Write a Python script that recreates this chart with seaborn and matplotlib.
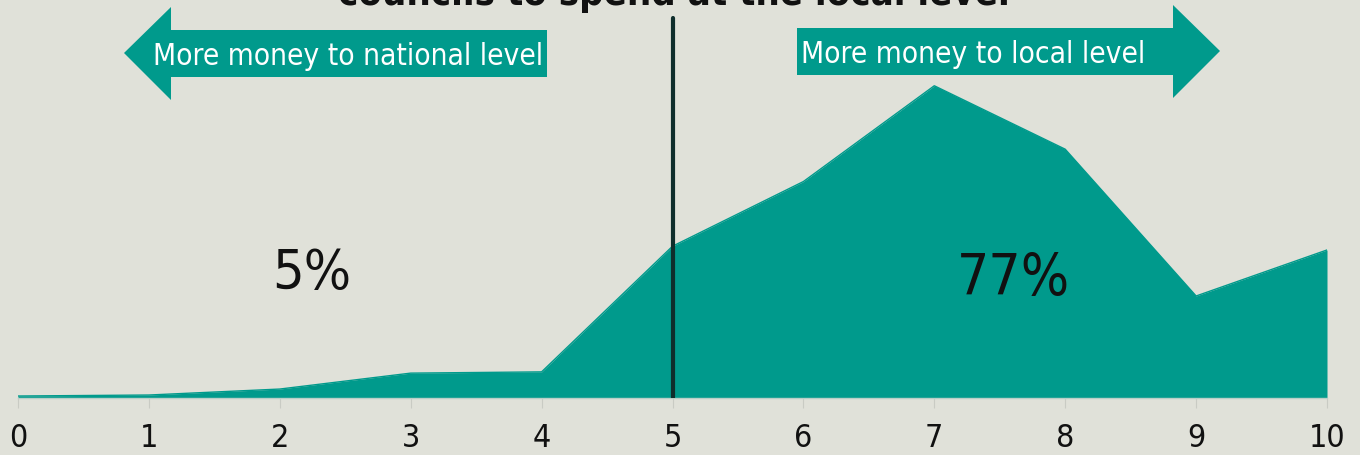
import matplotlib
matplotlib.use("Agg")
import matplotlib.pyplot as plt
import seaborn as sns
import pandas as pd
from matplotlib import font_manager
from matplotlib.patches import Polygon

# ---- data ----
scale_points = [0, 1, 2, 3, 4, 5, 6, 7, 8, 9, 10]
share = [0.16, 0.24, 0.72, 2.0, 2.1, 12.2, 17.4, 25.1, 20.0, 8.2, 11.9]
tick_labels = ["0", "1", "2", "3", "4", "5", "6", "7", "8", "9", "10"]
title_text = "councils to spend at the local level"
left_arrow_text = "More money to national level"
right_arrow_text = "More money to local level"
left_pct = "5%"
right_pct = "77%"

TEAL = "#009a8c"
BG = "#e0e1d9"
DARK = "#0f2e2c"

sns.set_theme(style="white")
condensed = any(f.name == "DejaVu Sans" and f.stretch == "condensed"
                for f in font_manager.fontManager.ttflist)
plt.rcParams["font.family"] = ["DejaVu Sans"]
STRETCH = "condensed" if condensed else "normal"

W, H = 1360, 456
fig = plt.figure(figsize=(W / 100, H / 100), dpi=100, facecolor=BG)
ax = fig.add_axes([18 / W, 57 / H, (1327 - 18) / W, 399 / H])
ax.set_facecolor(BG)

df = pd.DataFrame({"x": scale_points, "y": share})
ax.fill_between(df["x"], df["y"], 0, color=TEAL, linewidth=0, zorder=2)
sns.lineplot(data=df, x="x", y="y", color=TEAL, linewidth=1, ax=ax, zorder=3)

ax.set_xlim(0, 10)
ax.set_ylim(0, 399 / 1244 * 100)
ax.set_xticks(scale_points)
ax.set_xticklabels(tick_labels, fontsize=23, color="#111111", fontstretch=STRETCH)
ax.set_yticks([])
ax.set_xlabel("")
ax.set_ylabel("")
for s in ["top", "left", "right"]:
    ax.spines[s].set_visible(False)
ax.spines["bottom"].set_color("#b9cfc8")
ax.spines["bottom"].set_linewidth(1)
ax.tick_params(axis="x", bottom=True, length=7, width=0.8, color="#c9cbc4", pad=10)

ax.axvline(5, ymin=0, ymax=(399 - 19) / 399, color=DARK, linewidth=3, zorder=4)


def px(x, y):
    return (x / W, 1 - y / H)


left_poly = [(547, 31), (171, 31), (171, 8), (124, 54), (171, 101), (171, 78), (547, 78)]
right_poly = [(797, 29), (1173, 29), (1173, 6), (1220, 52), (1173, 99), (1173, 76), (797, 76)]
for poly in (left_poly, right_poly):
    fig.patches.append(Polygon([px(*p) for p in poly], closed=True, transform=fig.transFigure,
                               facecolor=TEAL, edgecolor="none"))

renderer = fig.canvas.get_renderer()


def fitted_text(x, y, s, target_w, size0, **kw):
    t = fig.text(*px(x, y), s, fontsize=size0, fontstretch=STRETCH, **kw)
    w = t.get_window_extent(renderer).width
    t.set_fontsize(size0 * target_w / w)
    return t


fitted_text(348, 65, left_arrow_text, 391, 25, color="white", ha="center", va="baseline")
fitted_text(973, 63, right_arrow_text, 345, 25, color="white", ha="center", va="baseline")

fitted_text(312, 289, left_pct, 79, 48, color="#111111", ha="center", va="baseline")
fitted_text(1013, 295, right_pct, 113, 48, color="#111111", ha="center", va="baseline")

fitted_text(674, 5, title_text, 672, 30, color="#111111", fontweight="bold",
            ha="center", va="baseline")

fig.savefig("out.png", dpi=100, facecolor=BG)
